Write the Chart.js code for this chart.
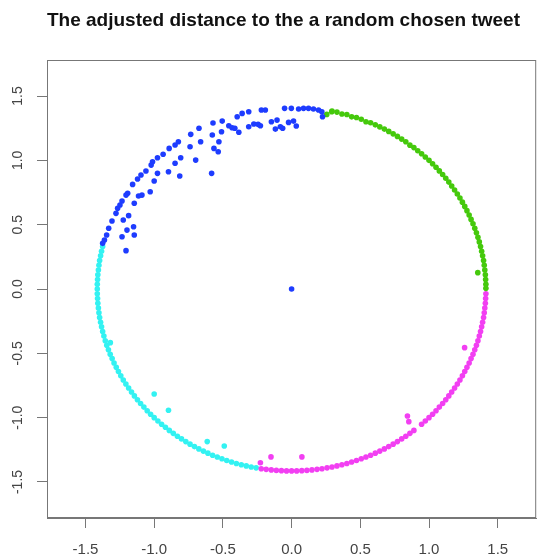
<!DOCTYPE html>
<html>
<head>
<meta charset="utf-8">
<script src="https://cdn.jsdelivr.net/npm/chart.js@4.4.1/dist/chart.umd.min.js"></script>
<style>
  html, body { margin: 0; padding: 0; background: #ffffff; }
  #wrap { width: 539px; height: 556px; }
</style>
</head>
<body>
<div id="wrap"><canvas id="grafica" width="539" height="556"></canvas></div>
<script>
// Valores
var titulo = 'The adjusted distance to the a random chosen tweet';
var marcas = [-1.5, -1.0, -0.5, 0.0, 0.5, 1.0, 1.5];

var azulX = [-0.674, -0.734, -0.824, -0.848, -0.891, -0.935, -0.976, -1.012, -1.022, -1.060, -1.096, -1.121,
  -1.157, -1.193, -1.205, -1.234, -1.249, -1.266, -1.278, -1.307, -1.331, -1.346, -1.362, -1.375,
  -0.662, -0.739, -0.698, -0.807, -0.848, -0.896, -0.814, -0.976, -1.000, -1.029, -1.089, -1.114,
  -1.145, -1.186, -1.225, -1.150, -1.198, -1.234, -1.145, -1.205,
  -0.572, -0.577, -0.505, -0.510, -0.529, -0.565, -0.534, -0.582, -0.457, -0.433, -0.413, -0.384,
  -0.396, -0.360, -0.312, -0.312, -0.275, -0.244, -0.227, -0.220, -0.191, -0.147, -0.106, -0.118,
  -0.082, -0.065, -0.051, -0.002, -0.022, 0.014, 0.034, 0.051, 0.087, 0.123, 0.159, 0.196, 0.220, 0.225,
  0.000];
var azulY = [1.249, 1.202, 1.145, 1.119, 1.093, 1.047, 1.020, 0.989, 0.963, 0.917, 0.886, 0.855,
  0.813, 0.744, 0.730, 0.684, 0.653, 0.627, 0.588, 0.528, 0.472, 0.420, 0.381, 0.355,
  1.145, 1.106, 1.002, 1.020, 0.977, 0.911, 0.878, 0.899, 0.839, 0.756, 0.730, 0.723,
  0.666, 0.570, 0.536, 0.484, 0.458, 0.406, 0.420, 0.298,
  1.290, 1.197, 1.305, 1.222, 1.145, 1.093, 1.067, 0.899, 1.269, 1.253, 1.249, 1.218,
  1.339, 1.365, 1.378, 1.261, 1.282, 1.280, 1.269, 1.391, 1.391, 1.300, 1.313, 1.243,
  1.261, 1.249, 1.404, 1.404, 1.295, 1.305, 1.267, 1.399, 1.404, 1.404, 1.399, 1.391, 1.378, 1.339,
  0.000];

var verdeX = [0.256, 0.292, 0.294, 0.330, 0.366, 0.402, 0.437, 0.472, 0.507, 0.541, 0.575, 0.609,
  0.642, 0.675, 0.707, 0.739, 0.770, 0.801, 0.831, 0.861, 0.890, 0.918, 0.946, 0.973,
  1.000, 1.026, 1.051, 1.075, 1.099, 1.122, 1.144, 1.165, 1.186, 1.206, 1.225, 1.243,
  1.260, 1.276, 1.292, 1.306, 1.320, 1.333, 1.345, 1.356, 1.366, 1.375, 1.383, 1.390,
  1.397, 1.402, 1.406, 1.410, 1.412, 1.414, 1.414, 1.355];
var verdeY = [1.357, 1.378, 1.383, 1.375, 1.360, 1.356, 1.338, 1.333, 1.320, 1.300, 1.292, 1.276,
  1.260, 1.243, 1.225, 1.206, 1.186, 1.165, 1.144, 1.118, 1.099, 1.075, 1.051, 1.026,
  1.000, 0.973, 0.946, 0.918, 0.890, 0.861, 0.831, 0.801, 0.770, 0.739, 0.707, 0.675,
  0.642, 0.609, 0.575, 0.541, 0.507, 0.472, 0.437, 0.402, 0.366, 0.330, 0.294, 0.258,
  0.221, 0.185, 0.148, 0.111, 0.074, 0.037, 0.005, 0.127];

var magentaX = [1.414, 1.412, 1.410, 1.406, 1.402, 1.397, 1.390, 1.383, 1.375, 1.366, 1.356, 1.345,
  1.333, 1.320, 1.306, 1.292, 1.276, 1.260, 1.243, 1.225, 1.206, 1.186, 1.165, 1.144,
  1.122, 1.099, 1.075, 1.051, 1.026, 1.000, 0.973, 0.946, 0.890, 0.861, 0.831, 0.801,
  0.770, 0.739, 0.707, 0.675, 0.642, 0.609, 0.575, 0.541, 0.507, 0.472, 0.437, 0.402,
  0.366, 0.330, 0.294, 0.258, 0.221, 0.185, 0.148, 0.111, 0.074, 0.037, 0.000, -0.037,
  -0.074, -0.111, -0.148, -0.185, -0.221,
  -0.227, -0.150, 0.075, 1.259, 0.843, 0.853];
var magentaY = [-0.037, -0.074, -0.111, -0.148, -0.185, -0.221, -0.258, -0.294, -0.330, -0.366, -0.402, -0.437,
  -0.472, -0.507, -0.541, -0.575, -0.609, -0.642, -0.675, -0.707, -0.739, -0.770, -0.801, -0.831,
  -0.861, -0.890, -0.918, -0.946, -0.973, -1.000, -1.026, -1.051, -1.099, -1.122, -1.144, -1.165,
  -1.186, -1.206, -1.225, -1.243, -1.260, -1.276, -1.292, -1.306, -1.320, -1.333, -1.345, -1.356,
  -1.366, -1.375, -1.383, -1.390, -1.397, -1.402, -1.406, -1.410, -1.412, -1.414, -1.414, -1.414,
  -1.412, -1.410, -1.406, -1.402, -1.397,
  -1.350, -1.305, -1.305, -0.456, -0.987, -1.031];

var cianX = [-1.375, -1.383, -1.390, -1.397, -1.402, -1.406, -1.410, -1.412, -1.414, -1.414, -1.414, -1.412,
  -1.410, -1.406, -1.402, -1.397, -1.390, -1.383, -1.375, -1.366, -1.356, -1.345, -1.333, -1.320,
  -1.306, -1.292, -1.276, -1.260, -1.243, -1.225, -1.206, -1.186, -1.165, -1.144, -1.122, -1.099,
  -1.075, -1.051, -1.026, -1.000, -0.973, -0.946, -0.918, -0.890, -0.861, -0.831, -0.801, -0.770,
  -0.739, -0.707, -0.675, -0.642, -0.609, -0.575, -0.541, -0.507, -0.472, -0.437, -0.402, -0.366,
  -0.330, -0.294, -0.258,
  -1.000, -0.896, -0.614, -0.490, -1.319];
var cianY = [0.330, 0.294, 0.258, 0.221, 0.185, 0.148, 0.111, 0.074, 0.037, 0.000, -0.037, -0.074,
  -0.111, -0.148, -0.185, -0.221, -0.258, -0.294, -0.330, -0.366, -0.402, -0.437, -0.472, -0.507,
  -0.541, -0.575, -0.609, -0.642, -0.675, -0.707, -0.739, -0.770, -0.801, -0.831, -0.861, -0.890,
  -0.918, -0.946, -0.973, -1.000, -1.026, -1.051, -1.075, -1.099, -1.122, -1.144, -1.165, -1.186,
  -1.206, -1.225, -1.243, -1.260, -1.276, -1.292, -1.306, -1.320, -1.333, -1.345, -1.356, -1.366,
  -1.375, -1.383, -1.390,
  -0.816, -0.943, -1.186, -1.220, -0.417];

function puntos(xs, ys) {
    return xs.map(function (x, i) { return { x: x, y: ys[i] }; });
}

function serie(xs, ys, color) {
    return {
        data: puntos(xs, ys),
        backgroundColor: color,
        borderWidth: 0,
        pointRadius: 2.8,
        pointHoverRadius: 2.8
    };
}

// marco completo alrededor del area de la grafica
var marco = {
    id: 'marco',
    afterDraw: function (chart) {
        var a = chart.chartArea;
        var ctx = chart.ctx;
        ctx.save();
        ctx.strokeStyle = '#777777';
        ctx.lineWidth = 1;
        ctx.strokeRect(a.left + 0.5, a.top + 0.5, a.right - a.left - 1, a.bottom - a.top - 1);
        ctx.restore();
    }
};

function fijarMarcas(scale) {
    scale.ticks = marcas.map(function (v) { return { value: v }; });
}

var ctx = document.getElementById('grafica').getContext('2d');
var dispersion = new Chart(ctx, {
    type: 'scatter',
    data: {
        datasets: [
            serie(azulX, azulY, '#1e3cff'),
            serie(verdeX, verdeY, '#45c90c'),
            serie(magentaX, magentaY, '#f23ff2'),
            serie(cianX, cianY, '#33f2f2')
        ]
    },
    options: {
        responsive: false,
        animation: false,
        layout: { padding: { left: 0, right: 1, top: 0, bottom: 0 } },
        plugins: {
            legend: { display: false },
            tooltip: { enabled: false },
            title: {
                display: true,
                fullSize: false,
                align: 'start',
                text: titulo,
                color: '#111111',
                font: { family: 'Liberation Sans', size: 19, weight: 'bold', lineHeight: 1.2 },
                padding: { top: 9.3, bottom: 27.9 }
            }
        },
        scales: {
            x: {
                type: 'linear',
                min: -1.78,
                max: 1.78,
                afterBuildTicks: fijarMarcas,
                afterFit: function (scale) { scale.height = 38; },
                grid: { drawOnChartArea: false, drawTicks: true, tickLength: 10, color: '#777777' },
                border: { display: true, color: '#777777' },
                ticks: {
                    color: '#444444',
                    font: { family: 'Liberation Sans', size: 15 },
                    padding: 13,
                    maxRotation: 0,
                    callback: function (v) { return Number(v).toFixed(1); }
                }
            },
            y: {
                type: 'linear',
                min: -1.78,
                max: 1.78,
                afterBuildTicks: fijarMarcas,
                afterFit: function (scale) { scale.width = 47; },
                grid: { drawOnChartArea: false, drawTicks: true, tickLength: 10, color: '#777777' },
                border: { display: true, color: '#777777' },
                ticks: {
                    color: '#444444',
                    font: { family: 'Liberation Sans', size: 14 },
                    padding: 7,
                    minRotation: 90,
                    maxRotation: 90,
                    crossAlign: 'center',
                    callback: function (v) { return Number(v).toFixed(1); }
                }
            }
        }
    },
    plugins: [marco]
});
</script>
</body>
</html>
